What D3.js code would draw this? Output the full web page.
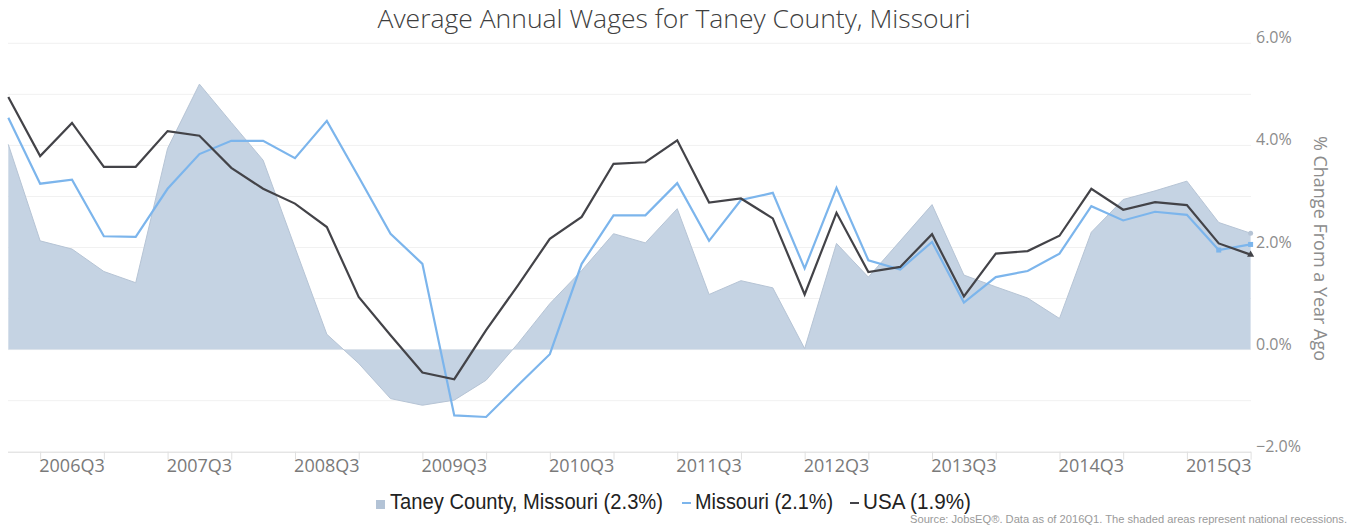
<!DOCTYPE html>
<html lang="en">
<head>
<meta charset="UTF-8">
<title>Average Annual Wages for Taney County, Missouri</title>
<script src="https://d3js.org/d3.v7.min.js"></script>
<style>
  body { margin: 0; background: #fff; }
  svg text { font-family: "Open Sans", sans-serif; }
  svg .legend text, svg text.source { font-family: "Liberation Sans Narrow", "Liberation Sans", Arial, sans-serif; }
</style>
</head>
<body>
<svg id="chart" width="1355" height="527"></svg>
<script>
// quarters, 2006Q1 .. 2015Q4
const quarters = [
  "2006Q1","2006Q2","2006Q3","2006Q4","2007Q1","2007Q2","2007Q3","2007Q4",
  "2008Q1","2008Q2","2008Q3","2008Q4","2009Q1","2009Q2","2009Q3","2009Q4",
  "2010Q1","2010Q2","2010Q3","2010Q4","2011Q1","2011Q2","2011Q3","2011Q4",
  "2012Q1","2012Q2","2012Q3","2012Q4","2013Q1","2013Q2","2013Q3","2013Q4",
  "2014Q1","2014Q2","2014Q3","2014Q4","2015Q1","2015Q2","2015Q3","2015Q4"
];
const xLabels = ["2006Q3","2007Q3","2008Q3","2009Q3","2010Q3","2011Q3","2012Q3","2013Q3","2014Q3","2015Q3"];

// % change from a year ago
const taney = [
  4.02, 2.13, 1.97, 1.53, 1.31, 3.94, 5.20, 4.45, 3.71, 2.00,
  0.30, -0.27, -0.96, -1.09, -0.99, -0.60, 0.12, 0.90, 1.55, 2.27,
  2.09, 2.76, 1.08, 1.35, 1.21, 0.02, 2.08, 1.42, 2.13, 2.84,
  1.46, 1.23, 1.01, 0.61, 2.30, 2.94, 3.11, 3.30, 2.49, 2.28
];
const missouri = [
  4.54, 3.25, 3.33, 2.22, 2.21, 3.15, 3.83, 4.09, 4.09, 3.75,
  4.48, 3.38, 2.27, 1.68, -1.29, -1.32, -0.70, -0.09, 1.68, 2.63,
  2.63, 3.26, 2.13, 2.93, 3.07, 1.59, 3.17, 1.75, 1.57, 2.11,
  0.92, 1.42, 1.54, 1.88, 2.81, 2.53, 2.70, 2.64, 1.95, 2.06
];
const usa = [
  4.95, 3.79, 4.44, 3.58, 3.58, 4.28, 4.19, 3.56, 3.15, 2.86,
  2.40, 1.03, 0.28, -0.45, -0.58, 0.38, 1.26, 2.17, 2.60, 3.64,
  3.67, 4.10, 2.88, 2.96, 2.57, 1.08, 2.68, 1.52, 1.62, 2.26,
  1.04, 1.88, 1.93, 2.23, 3.15, 2.74, 2.89, 2.83, 2.08, 1.86
];

const yTicks = [-2, 0, 2, 4, 6];
const yGrid = [-1, 0, 1, 2, 3, 4, 5, 6];
const legendItems = [
  { name: "Taney County, Missouri (2.3%)", type: "area" },
  { name: "Missouri (2.1%)", type: "line", color: "#7cb5ec" },
  { name: "USA (1.9%)", type: "line", color: "#434348" }
];

const svg = d3.select("#chart");

const x = d3.scalePoint().domain(quarters).range([8.3, 1250.6]);
const y = d3.scaleLinear().domain([-2, 6]).range([451.7, 43.3]);

// title
svg.append("text")
  .attr("x", 674).attr("y", 28)
  .attr("text-anchor", "middle")
  .style("font-size", "26.5px")
  .style("font-weight", 300)
  .style("fill", "#3e3e3e")
  .text("Average Annual Wages for Taney County, Missouri");

// grid
svg.append("g").selectAll("line")
  .data(yGrid)
  .enter().append("line")
  .attr("x1", 8).attr("x2", 1251)
  .attr("y1", d => y(d)).attr("y2", d => y(d))
  .attr("stroke", "#f1f1f1").attr("stroke-width", 1);

// x axis
const xAxis = svg.append("g")
  .attr("transform", `translate(0,${y(-2)})`)
  .call(d3.axisBottom(x)
    .tickValues(quarters.filter((q, i) => i % 2 === 1))
    .tickSize(8)
    .tickFormat(""));
xAxis.select(".domain").attr("stroke", "#d9d9d9").attr("d", "M8,0.5H1251");
xAxis.selectAll(".tick line").attr("stroke", "#e0e0e0");

svg.append("g").selectAll("text")
  .data(xLabels)
  .enter().append("text")
  .attr("x", d => x(d))
  .attr("y", 472)
  .attr("text-anchor", "middle")
  .style("font-size", "18px")
  .style("fill", "#7a7a7a")
  .text(d => d);

// y axis labels (right)
svg.append("g").selectAll("text")
  .data(yTicks)
  .enter().append("text")
  .attr("x", 1256)
  .attr("y", d => y(d))
  .style("font-size", "16px")
  .style("fill", "#8c8c8c")
  .text(d => (d < 0 ? "\u2212" : "") + Math.abs(d).toFixed(1) + "%");

svg.append("text")
  .attr("transform", "translate(1314,248.5) rotate(90)")
  .attr("text-anchor", "middle")
  .style("font-size", "18px")
  .style("fill", "#8c8c8c")
  .text("% Change From a Year Ago");

// area: Taney County
const area = d3.area()
  .x((d, i) => x(quarters[i]))
  .y0(y(0))
  .y1(d => y(d));
svg.append("path")
  .datum(taney)
  .attr("d", area)
  .attr("fill", "#c5d3e3");
svg.append("path")
  .datum(taney)
  .attr("d", d3.line().x((d, i) => x(quarters[i])).y(d => y(d)))
  .attr("fill", "none")
  .attr("stroke", "#b6c4d5")
  .attr("stroke-width", 1);

const line = d3.line()
  .x((d, i) => x(quarters[i]))
  .y(d => y(d));

svg.append("path")
  .datum(missouri)
  .attr("d", line)
  .attr("fill", "none")
  .attr("stroke", "#7cb5ec")
  .attr("stroke-width", 2.2);

svg.append("path")
  .datum(usa)
  .attr("d", line)
  .attr("fill", "none")
  .attr("stroke", "#434348")
  .attr("stroke-width", 2.2);

// end markers
const last = quarters.length - 1;
svg.append("circle")
  .attr("cx", x(quarters[last])).attr("cy", y(taney[last]))
  .attr("r", 2.5).attr("fill", "#b6c4d5");
[last - 1, last].forEach(i => {
  svg.append("rect")
    .attr("x", x(quarters[i]) - 2.5).attr("y", y(missouri[i]) - 2.5)
    .attr("width", 5).attr("height", 5)
    .attr("fill", "#7cb5ec");
});
svg.append("path")
  .attr("d", d3.symbol().type(d3.symbolTriangle).size(22)())
  .attr("transform", `translate(${x(quarters[last])},${y(usa[last])})`)
  .attr("fill", "#434348");

// legend
const legend = svg.append("g").attr("class", "legend");
const legendX = [376, 682, 850];
const legendW = [273, 138, 108];
legendItems.forEach((d, i) => {
  const g = legend.append("g").attr("transform", `translate(${legendX[i]},0)`);
  if (d.type === "area") {
    g.append("rect").attr("x", 0).attr("y", 500).attr("width", 9).attr("height", 9)
      .attr("fill", "#b3c3d6");
  } else {
    g.append("line").attr("x1", 0).attr("x2", 9).attr("y1", 503).attr("y2", 503)
      .attr("stroke", d.color).attr("stroke-width", 2);
  }
  g.append("text")
    .attr("x", i === 0 ? 14 : 13).attr("y", 509)
    .attr("textLength", legendW[i])
    .attr("lengthAdjust", "spacingAndGlyphs")
    .style("font-size", "22px")
    .style("fill", "#222")
    .text(d.name);
});

svg.append("text")
  .attr("class", "source")
  .attr("x", 1347).attr("y", 523)
  .attr("text-anchor", "end")
  .attr("textLength", 437)
  .attr("lengthAdjust", "spacingAndGlyphs")
  .style("font-size", "11px")
  .style("fill", "#9a9a9a")
  .text("Source: JobsEQ\u00ae. Data as of 2016Q1. The shaded areas represent national recessions.");
</script>
</body>
</html>
